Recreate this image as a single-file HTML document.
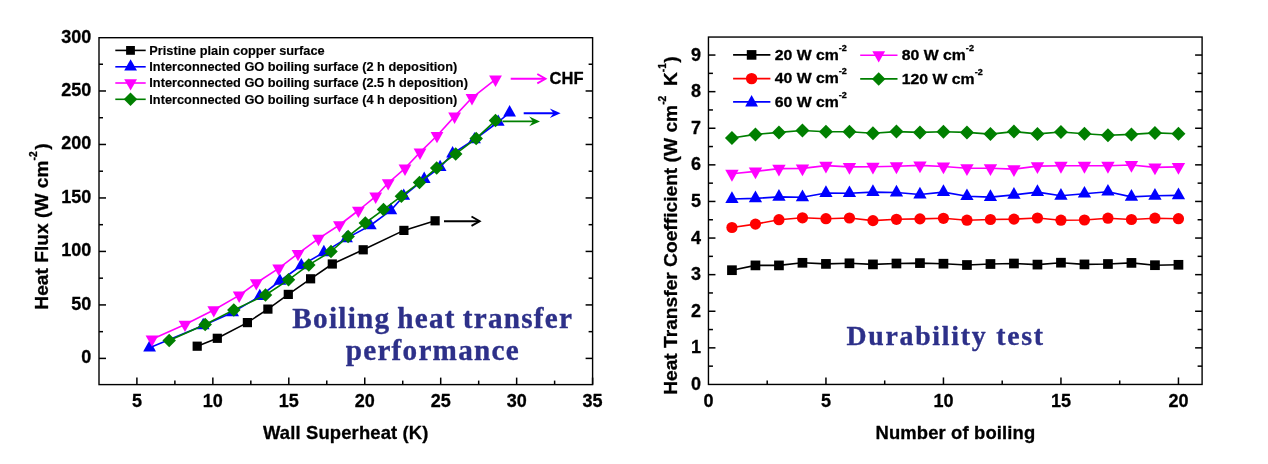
<!DOCTYPE html>
<html lang="en">
<head>
<meta charset="utf-8">
<title>Boiling heat transfer performance and durability test</title>
<style>
html,body{margin:0;padding:0;background:#ffffff;}
body{width:1268px;height:464px;overflow:hidden;}
svg{display:block;filter:blur(0.4px);}
text{white-space:pre;}
</style>
</head>
<body>
<svg width="1268" height="464" viewBox="0 0 1268 464" role="img" aria-label="Boiling heat transfer performance and durability test charts">
<rect width="1268" height="464" fill="#ffffff"/>
<rect x="99.0" y="37.7" width="493.60" height="346.90" fill="none" stroke="#000" stroke-width="1.4"/>
<line x1="136.90" y1="384.60" x2="136.90" y2="377.60" stroke="#000" stroke-width="1.5" />
<text x="136.90" y="407.10" font-family='"Liberation Sans", Arial, Helvetica, sans-serif' font-size="18" font-weight="bold" text-anchor="middle" fill="#000"  stroke="#000" stroke-width="0.3" stroke-linejoin="round">5</text>
<line x1="212.85" y1="384.60" x2="212.85" y2="377.60" stroke="#000" stroke-width="1.5" />
<text x="212.85" y="407.10" font-family='"Liberation Sans", Arial, Helvetica, sans-serif' font-size="18" font-weight="bold" text-anchor="middle" fill="#000"  stroke="#000" stroke-width="0.3" stroke-linejoin="round">10</text>
<line x1="288.80" y1="384.60" x2="288.80" y2="377.60" stroke="#000" stroke-width="1.5" />
<text x="288.80" y="407.10" font-family='"Liberation Sans", Arial, Helvetica, sans-serif' font-size="18" font-weight="bold" text-anchor="middle" fill="#000"  stroke="#000" stroke-width="0.3" stroke-linejoin="round">15</text>
<line x1="364.75" y1="384.60" x2="364.75" y2="377.60" stroke="#000" stroke-width="1.5" />
<text x="364.75" y="407.10" font-family='"Liberation Sans", Arial, Helvetica, sans-serif' font-size="18" font-weight="bold" text-anchor="middle" fill="#000"  stroke="#000" stroke-width="0.3" stroke-linejoin="round">20</text>
<line x1="440.70" y1="384.60" x2="440.70" y2="377.60" stroke="#000" stroke-width="1.5" />
<text x="440.70" y="407.10" font-family='"Liberation Sans", Arial, Helvetica, sans-serif' font-size="18" font-weight="bold" text-anchor="middle" fill="#000"  stroke="#000" stroke-width="0.3" stroke-linejoin="round">25</text>
<line x1="516.65" y1="384.60" x2="516.65" y2="377.60" stroke="#000" stroke-width="1.5" />
<text x="516.65" y="407.10" font-family='"Liberation Sans", Arial, Helvetica, sans-serif' font-size="18" font-weight="bold" text-anchor="middle" fill="#000"  stroke="#000" stroke-width="0.3" stroke-linejoin="round">30</text>
<line x1="592.60" y1="384.60" x2="592.60" y2="377.60" stroke="#000" stroke-width="1.5" />
<text x="592.60" y="407.10" font-family='"Liberation Sans", Arial, Helvetica, sans-serif' font-size="18" font-weight="bold" text-anchor="middle" fill="#000"  stroke="#000" stroke-width="0.3" stroke-linejoin="round">35</text>
<line x1="174.88" y1="384.60" x2="174.88" y2="380.60" stroke="#000" stroke-width="1.5" />
<line x1="250.83" y1="384.60" x2="250.83" y2="380.60" stroke="#000" stroke-width="1.5" />
<line x1="326.78" y1="384.60" x2="326.78" y2="380.60" stroke="#000" stroke-width="1.5" />
<line x1="402.73" y1="384.60" x2="402.73" y2="380.60" stroke="#000" stroke-width="1.5" />
<line x1="478.68" y1="384.60" x2="478.68" y2="380.60" stroke="#000" stroke-width="1.5" />
<line x1="554.62" y1="384.60" x2="554.62" y2="380.60" stroke="#000" stroke-width="1.5" />
<line x1="99.00" y1="358.40" x2="106.00" y2="358.40" stroke="#000" stroke-width="1.5" />
<line x1="592.60" y1="358.40" x2="585.60" y2="358.40" stroke="#000" stroke-width="1.5" />
<text x="91.20" y="363.40" font-family='"Liberation Sans", Arial, Helvetica, sans-serif' font-size="18" font-weight="bold" text-anchor="end" fill="#000"  stroke="#000" stroke-width="0.3" stroke-linejoin="round">0</text>
<line x1="99.00" y1="304.92" x2="106.00" y2="304.92" stroke="#000" stroke-width="1.5" />
<line x1="592.60" y1="304.92" x2="585.60" y2="304.92" stroke="#000" stroke-width="1.5" />
<text x="91.20" y="309.92" font-family='"Liberation Sans", Arial, Helvetica, sans-serif' font-size="18" font-weight="bold" text-anchor="end" fill="#000"  stroke="#000" stroke-width="0.3" stroke-linejoin="round">50</text>
<line x1="99.00" y1="251.43" x2="106.00" y2="251.43" stroke="#000" stroke-width="1.5" />
<line x1="592.60" y1="251.43" x2="585.60" y2="251.43" stroke="#000" stroke-width="1.5" />
<text x="91.20" y="256.43" font-family='"Liberation Sans", Arial, Helvetica, sans-serif' font-size="18" font-weight="bold" text-anchor="end" fill="#000"  stroke="#000" stroke-width="0.3" stroke-linejoin="round">100</text>
<line x1="99.00" y1="197.95" x2="106.00" y2="197.95" stroke="#000" stroke-width="1.5" />
<line x1="592.60" y1="197.95" x2="585.60" y2="197.95" stroke="#000" stroke-width="1.5" />
<text x="91.20" y="202.95" font-family='"Liberation Sans", Arial, Helvetica, sans-serif' font-size="18" font-weight="bold" text-anchor="end" fill="#000"  stroke="#000" stroke-width="0.3" stroke-linejoin="round">150</text>
<line x1="99.00" y1="144.47" x2="106.00" y2="144.47" stroke="#000" stroke-width="1.5" />
<line x1="592.60" y1="144.47" x2="585.60" y2="144.47" stroke="#000" stroke-width="1.5" />
<text x="91.20" y="149.47" font-family='"Liberation Sans", Arial, Helvetica, sans-serif' font-size="18" font-weight="bold" text-anchor="end" fill="#000"  stroke="#000" stroke-width="0.3" stroke-linejoin="round">200</text>
<line x1="99.00" y1="90.98" x2="106.00" y2="90.98" stroke="#000" stroke-width="1.5" />
<line x1="592.60" y1="90.98" x2="585.60" y2="90.98" stroke="#000" stroke-width="1.5" />
<text x="91.20" y="95.98" font-family='"Liberation Sans", Arial, Helvetica, sans-serif' font-size="18" font-weight="bold" text-anchor="end" fill="#000"  stroke="#000" stroke-width="0.3" stroke-linejoin="round">250</text>
<text x="91.20" y="42.50" font-family='"Liberation Sans", Arial, Helvetica, sans-serif' font-size="18" font-weight="bold" text-anchor="end" fill="#000"  stroke="#000" stroke-width="0.3" stroke-linejoin="round">300</text>
<line x1="99.00" y1="331.66" x2="103.00" y2="331.66" stroke="#000" stroke-width="1.5" />
<line x1="592.60" y1="331.66" x2="588.60" y2="331.66" stroke="#000" stroke-width="1.5" />
<line x1="99.00" y1="278.17" x2="103.00" y2="278.17" stroke="#000" stroke-width="1.5" />
<line x1="592.60" y1="278.17" x2="588.60" y2="278.17" stroke="#000" stroke-width="1.5" />
<line x1="99.00" y1="224.69" x2="103.00" y2="224.69" stroke="#000" stroke-width="1.5" />
<line x1="592.60" y1="224.69" x2="588.60" y2="224.69" stroke="#000" stroke-width="1.5" />
<line x1="99.00" y1="171.21" x2="103.00" y2="171.21" stroke="#000" stroke-width="1.5" />
<line x1="592.60" y1="171.21" x2="588.60" y2="171.21" stroke="#000" stroke-width="1.5" />
<line x1="99.00" y1="117.72" x2="103.00" y2="117.72" stroke="#000" stroke-width="1.5" />
<line x1="592.60" y1="117.72" x2="588.60" y2="117.72" stroke="#000" stroke-width="1.5" />
<line x1="99.00" y1="64.24" x2="103.00" y2="64.24" stroke="#000" stroke-width="1.5" />
<line x1="592.60" y1="64.24" x2="588.60" y2="64.24" stroke="#000" stroke-width="1.5" />
<polyline points="197.20,346.20 217.30,338.30 247.40,322.60 267.90,309.10 288.30,294.40 310.60,278.80 332.30,264.00 363.20,249.80 403.90,230.40 435.10,220.80" fill="none" stroke="#000000" stroke-width="1.6" stroke-linejoin="round"/>
<rect x="192.60" y="341.60" width="9.2" height="9.2" fill="#000000"/>
<rect x="212.70" y="333.70" width="9.2" height="9.2" fill="#000000"/>
<rect x="242.80" y="318.00" width="9.2" height="9.2" fill="#000000"/>
<rect x="263.30" y="304.50" width="9.2" height="9.2" fill="#000000"/>
<rect x="283.70" y="289.80" width="9.2" height="9.2" fill="#000000"/>
<rect x="306.00" y="274.20" width="9.2" height="9.2" fill="#000000"/>
<rect x="327.70" y="259.40" width="9.2" height="9.2" fill="#000000"/>
<rect x="358.60" y="245.20" width="9.2" height="9.2" fill="#000000"/>
<rect x="399.30" y="225.80" width="9.2" height="9.2" fill="#000000"/>
<rect x="430.50" y="216.20" width="9.2" height="9.2" fill="#000000"/>
<polyline points="149.60,347.70 203.20,325.40 232.60,312.40 259.80,296.30 279.90,281.00 301.30,265.50 323.90,252.40 346.50,238.40 370.30,225.50 390.80,210.40 403.70,196.00 424.20,179.20 440.10,167.30 452.60,153.60 474.50,139.50 498.20,122.00 509.60,112.60" fill="none" stroke="#0000ff" stroke-width="1.6" stroke-linejoin="round"/>
<polygon points="149.60,340.10 156.00,351.50 143.20,351.50" fill="#0000ff"/>
<polygon points="203.20,317.80 209.60,329.20 196.80,329.20" fill="#0000ff"/>
<polygon points="232.60,304.80 239.00,316.20 226.20,316.20" fill="#0000ff"/>
<polygon points="259.80,288.70 266.20,300.10 253.40,300.10" fill="#0000ff"/>
<polygon points="279.90,273.40 286.30,284.80 273.50,284.80" fill="#0000ff"/>
<polygon points="301.30,257.90 307.70,269.30 294.90,269.30" fill="#0000ff"/>
<polygon points="323.90,244.80 330.30,256.20 317.50,256.20" fill="#0000ff"/>
<polygon points="346.50,230.80 352.90,242.20 340.10,242.20" fill="#0000ff"/>
<polygon points="370.30,217.90 376.70,229.30 363.90,229.30" fill="#0000ff"/>
<polygon points="390.80,202.80 397.20,214.20 384.40,214.20" fill="#0000ff"/>
<polygon points="403.70,188.40 410.10,199.80 397.30,199.80" fill="#0000ff"/>
<polygon points="424.20,171.60 430.60,183.00 417.80,183.00" fill="#0000ff"/>
<polygon points="440.10,159.70 446.50,171.10 433.70,171.10" fill="#0000ff"/>
<polygon points="452.60,146.00 459.00,157.40 446.20,157.40" fill="#0000ff"/>
<polygon points="474.50,131.90 480.90,143.30 468.10,143.30" fill="#0000ff"/>
<polygon points="498.20,114.40 504.60,125.80 491.80,125.80" fill="#0000ff"/>
<polygon points="509.60,105.00 516.00,116.40 503.20,116.40" fill="#0000ff"/>
<polyline points="152.00,339.20 185.00,324.50 213.80,310.00 239.20,295.40 256.30,283.00 278.70,268.30 298.00,253.70 318.50,238.60 339.40,225.00 358.40,210.50 375.70,196.30 388.20,183.00 405.00,168.30 420.00,152.40 437.00,135.70 454.60,116.40 472.00,97.80 495.50,79.30" fill="none" stroke="#ff00ff" stroke-width="1.6" stroke-linejoin="round"/>
<polygon points="152.00,346.80 158.40,335.40 145.60,335.40" fill="#ff00ff"/>
<polygon points="185.00,332.10 191.40,320.70 178.60,320.70" fill="#ff00ff"/>
<polygon points="213.80,317.60 220.20,306.20 207.40,306.20" fill="#ff00ff"/>
<polygon points="239.20,303.00 245.60,291.60 232.80,291.60" fill="#ff00ff"/>
<polygon points="256.30,290.60 262.70,279.20 249.90,279.20" fill="#ff00ff"/>
<polygon points="278.70,275.90 285.10,264.50 272.30,264.50" fill="#ff00ff"/>
<polygon points="298.00,261.30 304.40,249.90 291.60,249.90" fill="#ff00ff"/>
<polygon points="318.50,246.20 324.90,234.80 312.10,234.80" fill="#ff00ff"/>
<polygon points="339.40,232.60 345.80,221.20 333.00,221.20" fill="#ff00ff"/>
<polygon points="358.40,218.10 364.80,206.70 352.00,206.70" fill="#ff00ff"/>
<polygon points="375.70,203.90 382.10,192.50 369.30,192.50" fill="#ff00ff"/>
<polygon points="388.20,190.60 394.60,179.20 381.80,179.20" fill="#ff00ff"/>
<polygon points="405.00,175.90 411.40,164.50 398.60,164.50" fill="#ff00ff"/>
<polygon points="420.00,160.00 426.40,148.60 413.60,148.60" fill="#ff00ff"/>
<polygon points="437.00,143.30 443.40,131.90 430.60,131.90" fill="#ff00ff"/>
<polygon points="454.60,124.00 461.00,112.60 448.20,112.60" fill="#ff00ff"/>
<polygon points="472.00,105.40 478.40,94.00 465.60,94.00" fill="#ff00ff"/>
<polygon points="495.50,86.90 501.90,75.50 489.10,75.50" fill="#ff00ff"/>
<polyline points="169.20,340.40 205.20,324.50 233.80,309.90 265.50,295.00 288.50,279.80 308.80,264.90 331.00,251.50 348.10,236.40 365.30,223.00 383.50,209.60 401.40,196.20 419.50,182.60 436.70,167.90 455.70,153.90 476.20,138.40 495.50,120.60" fill="none" stroke="#007f00" stroke-width="1.6" stroke-linejoin="round"/>
<polygon points="169.20,333.65 175.95,340.40 169.20,347.15 162.45,340.40" fill="#007f00"/>
<polygon points="205.20,317.75 211.95,324.50 205.20,331.25 198.45,324.50" fill="#007f00"/>
<polygon points="233.80,303.15 240.55,309.90 233.80,316.65 227.05,309.90" fill="#007f00"/>
<polygon points="265.50,288.25 272.25,295.00 265.50,301.75 258.75,295.00" fill="#007f00"/>
<polygon points="288.50,273.05 295.25,279.80 288.50,286.55 281.75,279.80" fill="#007f00"/>
<polygon points="308.80,258.15 315.55,264.90 308.80,271.65 302.05,264.90" fill="#007f00"/>
<polygon points="331.00,244.75 337.75,251.50 331.00,258.25 324.25,251.50" fill="#007f00"/>
<polygon points="348.10,229.65 354.85,236.40 348.10,243.15 341.35,236.40" fill="#007f00"/>
<polygon points="365.30,216.25 372.05,223.00 365.30,229.75 358.55,223.00" fill="#007f00"/>
<polygon points="383.50,202.85 390.25,209.60 383.50,216.35 376.75,209.60" fill="#007f00"/>
<polygon points="401.40,189.45 408.15,196.20 401.40,202.95 394.65,196.20" fill="#007f00"/>
<polygon points="419.50,175.85 426.25,182.60 419.50,189.35 412.75,182.60" fill="#007f00"/>
<polygon points="436.70,161.15 443.45,167.90 436.70,174.65 429.95,167.90" fill="#007f00"/>
<polygon points="455.70,147.15 462.45,153.90 455.70,160.65 448.95,153.90" fill="#007f00"/>
<polygon points="476.20,131.65 482.95,138.40 476.20,145.15 469.45,138.40" fill="#007f00"/>
<polygon points="495.50,113.85 502.25,120.60 495.50,127.35 488.75,120.60" fill="#007f00"/>
<line x1="444.00" y1="221.20" x2="479.30" y2="221.20" stroke="#000000" stroke-width="1.9" />
<polyline points="471.50,216.50 479.70,221.20 471.50,225.90" fill="none" stroke="#000000" stroke-width="1.9" stroke-linejoin="miter"/>
<line x1="510.70" y1="78.70" x2="545.10" y2="78.70" stroke="#ff00ff" stroke-width="1.9" />
<polyline points="537.30,74.00 545.50,78.70 537.30,83.40" fill="none" stroke="#ff00ff" stroke-width="1.9" stroke-linejoin="miter"/>
<line x1="523.70" y1="113.20" x2="555.60" y2="113.20" stroke="#0000ff" stroke-width="1.9" />
<polygon points="560.60,113.20 549.80,108.40 553.60,113.20 549.80,118.00" fill="#0000ff"/>
<line x1="502.50" y1="121.40" x2="535.00" y2="121.40" stroke="#007f00" stroke-width="1.9" />
<polygon points="540.00,121.40 529.20,116.60 533.00,121.40 529.20,126.20" fill="#007f00"/>
<text x="549.60" y="84.00" font-family='"Liberation Sans", Arial, Helvetica, sans-serif' font-size="16.5" font-weight="bold" text-anchor="start" fill="#000"  stroke="#000" stroke-width="0.3" stroke-linejoin="round">CHF</text>
<line x1="115.30" y1="50.40" x2="145.70" y2="50.40" stroke="#000000" stroke-width="1.6" />
<rect x="126.10" y="46.00" width="8.8" height="8.8" fill="#000000"/>
<text x="0.00" y="0.00" font-family='"Liberation Sans", Arial, Helvetica, sans-serif' font-size="11.95" font-weight="bold" text-anchor="start" fill="#000"  transform="translate(149.30,54.60) scale(1.07,1)" stroke="#000" stroke-width="0.15" stroke-linejoin="round">Pristine plain copper surface</text>
<line x1="115.30" y1="66.80" x2="145.70" y2="66.80" stroke="#0000ff" stroke-width="1.6" />
<polygon points="130.60,59.20 137.00,70.60 124.20,70.60" fill="#0000ff"/>
<text x="0.00" y="0.00" font-family='"Liberation Sans", Arial, Helvetica, sans-serif' font-size="11.95" font-weight="bold" text-anchor="start" fill="#000"  transform="translate(149.30,71.00) scale(1.07,1)" stroke="#000" stroke-width="0.15" stroke-linejoin="round">Interconnected GO boiling surface (2 h deposition)</text>
<line x1="115.30" y1="83.00" x2="145.70" y2="83.00" stroke="#ff00ff" stroke-width="1.6" />
<polygon points="130.60,90.60 137.00,79.20 124.20,79.20" fill="#ff00ff"/>
<text x="0.00" y="0.00" font-family='"Liberation Sans", Arial, Helvetica, sans-serif' font-size="11.95" font-weight="bold" text-anchor="start" fill="#000"  transform="translate(149.30,87.20) scale(1.07,1)" stroke="#000" stroke-width="0.15" stroke-linejoin="round">Interconnected GO boiling surface (2.5 h deposition)</text>
<line x1="115.30" y1="99.30" x2="145.70" y2="99.30" stroke="#007f00" stroke-width="1.6" />
<polygon points="130.50,92.55 137.25,99.30 130.50,106.05 123.75,99.30" fill="#007f00"/>
<text x="0.00" y="0.00" font-family='"Liberation Sans", Arial, Helvetica, sans-serif' font-size="11.95" font-weight="bold" text-anchor="start" fill="#000"  transform="translate(149.30,103.50) scale(1.07,1)" stroke="#000" stroke-width="0.15" stroke-linejoin="round">Interconnected GO boiling surface (4 h deposition)</text>
<text x="345.80" y="439.30" font-family='"Liberation Sans", Arial, Helvetica, sans-serif' font-size="18.4" font-weight="bold" text-anchor="middle" fill="#000" letter-spacing="0.15" stroke="#000" stroke-width="0.3" stroke-linejoin="round">Wall Superheat (K)</text>
<g transform="translate(48.4,226.5) rotate(-90)">
<text x="0.00" y="0.00" font-family='"Liberation Sans", Arial, Helvetica, sans-serif' font-size="19.2" font-weight="bold" text-anchor="middle" fill="#000"  stroke="#000" stroke-width="0.3" stroke-linejoin="round">Heat Flux (W cm<tspan font-size="10.2" dy="-11.7">-2</tspan><tspan dy="11.7" dx="1.7">)</tspan></text>
</g>
<text x="432.80" y="327.90" font-family='"Liberation Serif", "Times New Roman", Times, serif' font-size="29.2" font-weight="bold" text-anchor="middle" fill="#2d3089" letter-spacing="1.25" word-spacing="-1.6" stroke="#2d3089" stroke-width="0.35" stroke-linejoin="round">Boiling heat transfer</text>
<text x="432.80" y="359.70" font-family='"Liberation Serif", "Times New Roman", Times, serif' font-size="29.2" font-weight="bold" text-anchor="middle" fill="#2d3089" letter-spacing="1.25" stroke="#2d3089" stroke-width="0.35" stroke-linejoin="round">performance</text>
<rect x="708.45" y="37.05" width="493.65" height="347.40" fill="none" stroke="#000" stroke-width="1.4"/>
<text x="708.45" y="406.60" font-family='"Liberation Sans", Arial, Helvetica, sans-serif' font-size="18" font-weight="bold" text-anchor="middle" fill="#000"  stroke="#000" stroke-width="0.3" stroke-linejoin="round">0</text>
<line x1="825.95" y1="384.45" x2="825.95" y2="377.45" stroke="#000" stroke-width="1.5" />
<text x="825.95" y="406.60" font-family='"Liberation Sans", Arial, Helvetica, sans-serif' font-size="18" font-weight="bold" text-anchor="middle" fill="#000"  stroke="#000" stroke-width="0.3" stroke-linejoin="round">5</text>
<line x1="943.45" y1="384.45" x2="943.45" y2="377.45" stroke="#000" stroke-width="1.5" />
<text x="943.45" y="406.60" font-family='"Liberation Sans", Arial, Helvetica, sans-serif' font-size="18" font-weight="bold" text-anchor="middle" fill="#000"  stroke="#000" stroke-width="0.3" stroke-linejoin="round">10</text>
<line x1="1060.95" y1="384.45" x2="1060.95" y2="377.45" stroke="#000" stroke-width="1.5" />
<text x="1060.95" y="406.60" font-family='"Liberation Sans", Arial, Helvetica, sans-serif' font-size="18" font-weight="bold" text-anchor="middle" fill="#000"  stroke="#000" stroke-width="0.3" stroke-linejoin="round">15</text>
<line x1="1178.45" y1="384.45" x2="1178.45" y2="377.45" stroke="#000" stroke-width="1.5" />
<text x="1178.45" y="406.60" font-family='"Liberation Sans", Arial, Helvetica, sans-serif' font-size="18" font-weight="bold" text-anchor="middle" fill="#000"  stroke="#000" stroke-width="0.3" stroke-linejoin="round">20</text>
<line x1="767.20" y1="384.45" x2="767.20" y2="380.45" stroke="#000" stroke-width="1.5" />
<line x1="884.70" y1="384.45" x2="884.70" y2="380.45" stroke="#000" stroke-width="1.5" />
<line x1="1002.20" y1="384.45" x2="1002.20" y2="380.45" stroke="#000" stroke-width="1.5" />
<line x1="1119.70" y1="384.45" x2="1119.70" y2="380.45" stroke="#000" stroke-width="1.5" />
<text x="701.00" y="389.95" font-family='"Liberation Sans", Arial, Helvetica, sans-serif' font-size="18" font-weight="bold" text-anchor="end" fill="#000"  stroke="#000" stroke-width="0.3" stroke-linejoin="round">0</text>
<line x1="708.45" y1="347.85" x2="715.45" y2="347.85" stroke="#000" stroke-width="1.5" />
<line x1="1202.10" y1="347.85" x2="1195.10" y2="347.85" stroke="#000" stroke-width="1.5" />
<text x="701.00" y="353.35" font-family='"Liberation Sans", Arial, Helvetica, sans-serif' font-size="18" font-weight="bold" text-anchor="end" fill="#000"  stroke="#000" stroke-width="0.3" stroke-linejoin="round">1</text>
<line x1="708.45" y1="311.25" x2="715.45" y2="311.25" stroke="#000" stroke-width="1.5" />
<line x1="1202.10" y1="311.25" x2="1195.10" y2="311.25" stroke="#000" stroke-width="1.5" />
<text x="701.00" y="316.75" font-family='"Liberation Sans", Arial, Helvetica, sans-serif' font-size="18" font-weight="bold" text-anchor="end" fill="#000"  stroke="#000" stroke-width="0.3" stroke-linejoin="round">2</text>
<line x1="708.45" y1="274.65" x2="715.45" y2="274.65" stroke="#000" stroke-width="1.5" />
<line x1="1202.10" y1="274.65" x2="1195.10" y2="274.65" stroke="#000" stroke-width="1.5" />
<text x="701.00" y="280.15" font-family='"Liberation Sans", Arial, Helvetica, sans-serif' font-size="18" font-weight="bold" text-anchor="end" fill="#000"  stroke="#000" stroke-width="0.3" stroke-linejoin="round">3</text>
<line x1="708.45" y1="238.05" x2="715.45" y2="238.05" stroke="#000" stroke-width="1.5" />
<line x1="1202.10" y1="238.05" x2="1195.10" y2="238.05" stroke="#000" stroke-width="1.5" />
<text x="701.00" y="243.55" font-family='"Liberation Sans", Arial, Helvetica, sans-serif' font-size="18" font-weight="bold" text-anchor="end" fill="#000"  stroke="#000" stroke-width="0.3" stroke-linejoin="round">4</text>
<line x1="708.45" y1="201.45" x2="715.45" y2="201.45" stroke="#000" stroke-width="1.5" />
<line x1="1202.10" y1="201.45" x2="1195.10" y2="201.45" stroke="#000" stroke-width="1.5" />
<text x="701.00" y="206.95" font-family='"Liberation Sans", Arial, Helvetica, sans-serif' font-size="18" font-weight="bold" text-anchor="end" fill="#000"  stroke="#000" stroke-width="0.3" stroke-linejoin="round">5</text>
<line x1="708.45" y1="164.85" x2="715.45" y2="164.85" stroke="#000" stroke-width="1.5" />
<line x1="1202.10" y1="164.85" x2="1195.10" y2="164.85" stroke="#000" stroke-width="1.5" />
<text x="701.00" y="170.35" font-family='"Liberation Sans", Arial, Helvetica, sans-serif' font-size="18" font-weight="bold" text-anchor="end" fill="#000"  stroke="#000" stroke-width="0.3" stroke-linejoin="round">6</text>
<line x1="708.45" y1="128.25" x2="715.45" y2="128.25" stroke="#000" stroke-width="1.5" />
<line x1="1202.10" y1="128.25" x2="1195.10" y2="128.25" stroke="#000" stroke-width="1.5" />
<text x="701.00" y="133.75" font-family='"Liberation Sans", Arial, Helvetica, sans-serif' font-size="18" font-weight="bold" text-anchor="end" fill="#000"  stroke="#000" stroke-width="0.3" stroke-linejoin="round">7</text>
<line x1="708.45" y1="91.65" x2="715.45" y2="91.65" stroke="#000" stroke-width="1.5" />
<line x1="1202.10" y1="91.65" x2="1195.10" y2="91.65" stroke="#000" stroke-width="1.5" />
<text x="701.00" y="97.15" font-family='"Liberation Sans", Arial, Helvetica, sans-serif' font-size="18" font-weight="bold" text-anchor="end" fill="#000"  stroke="#000" stroke-width="0.3" stroke-linejoin="round">8</text>
<line x1="708.45" y1="55.05" x2="715.45" y2="55.05" stroke="#000" stroke-width="1.5" />
<line x1="1202.10" y1="55.05" x2="1195.10" y2="55.05" stroke="#000" stroke-width="1.5" />
<text x="701.00" y="60.55" font-family='"Liberation Sans", Arial, Helvetica, sans-serif' font-size="18" font-weight="bold" text-anchor="end" fill="#000"  stroke="#000" stroke-width="0.3" stroke-linejoin="round">9</text>
<line x1="708.45" y1="366.15" x2="712.95" y2="366.15" stroke="#000" stroke-width="1.5" />
<line x1="1202.10" y1="366.15" x2="1197.60" y2="366.15" stroke="#000" stroke-width="1.5" />
<line x1="708.45" y1="329.55" x2="712.95" y2="329.55" stroke="#000" stroke-width="1.5" />
<line x1="1202.10" y1="329.55" x2="1197.60" y2="329.55" stroke="#000" stroke-width="1.5" />
<line x1="708.45" y1="292.95" x2="712.95" y2="292.95" stroke="#000" stroke-width="1.5" />
<line x1="1202.10" y1="292.95" x2="1197.60" y2="292.95" stroke="#000" stroke-width="1.5" />
<line x1="708.45" y1="256.35" x2="712.95" y2="256.35" stroke="#000" stroke-width="1.5" />
<line x1="1202.10" y1="256.35" x2="1197.60" y2="256.35" stroke="#000" stroke-width="1.5" />
<line x1="708.45" y1="219.75" x2="712.95" y2="219.75" stroke="#000" stroke-width="1.5" />
<line x1="1202.10" y1="219.75" x2="1197.60" y2="219.75" stroke="#000" stroke-width="1.5" />
<line x1="708.45" y1="183.15" x2="712.95" y2="183.15" stroke="#000" stroke-width="1.5" />
<line x1="1202.10" y1="183.15" x2="1197.60" y2="183.15" stroke="#000" stroke-width="1.5" />
<line x1="708.45" y1="146.55" x2="712.95" y2="146.55" stroke="#000" stroke-width="1.5" />
<line x1="1202.10" y1="146.55" x2="1197.60" y2="146.55" stroke="#000" stroke-width="1.5" />
<line x1="708.45" y1="109.95" x2="712.95" y2="109.95" stroke="#000" stroke-width="1.5" />
<line x1="1202.10" y1="109.95" x2="1197.60" y2="109.95" stroke="#000" stroke-width="1.5" />
<line x1="708.45" y1="73.35" x2="712.95" y2="73.35" stroke="#000" stroke-width="1.5" />
<line x1="1202.10" y1="73.35" x2="1197.60" y2="73.35" stroke="#000" stroke-width="1.5" />
<polyline points="731.95,270.20 755.45,265.40 778.95,265.40 802.45,262.80 825.95,263.90 849.45,263.30 872.95,264.40 896.45,263.50 919.95,263.10 943.45,263.70 966.95,265.00 990.45,264.00 1013.95,263.50 1037.45,264.60 1060.95,262.70 1084.45,264.40 1107.95,264.00 1131.45,262.90 1154.95,265.20 1178.45,264.80" fill="none" stroke="#000000" stroke-width="1.6" stroke-linejoin="round"/>
<rect x="727.10" y="265.35" width="9.7" height="9.7" fill="#000000"/>
<rect x="750.60" y="260.55" width="9.7" height="9.7" fill="#000000"/>
<rect x="774.10" y="260.55" width="9.7" height="9.7" fill="#000000"/>
<rect x="797.60" y="257.95" width="9.7" height="9.7" fill="#000000"/>
<rect x="821.10" y="259.05" width="9.7" height="9.7" fill="#000000"/>
<rect x="844.60" y="258.45" width="9.7" height="9.7" fill="#000000"/>
<rect x="868.10" y="259.55" width="9.7" height="9.7" fill="#000000"/>
<rect x="891.60" y="258.65" width="9.7" height="9.7" fill="#000000"/>
<rect x="915.10" y="258.25" width="9.7" height="9.7" fill="#000000"/>
<rect x="938.60" y="258.85" width="9.7" height="9.7" fill="#000000"/>
<rect x="962.10" y="260.15" width="9.7" height="9.7" fill="#000000"/>
<rect x="985.60" y="259.15" width="9.7" height="9.7" fill="#000000"/>
<rect x="1009.10" y="258.65" width="9.7" height="9.7" fill="#000000"/>
<rect x="1032.60" y="259.75" width="9.7" height="9.7" fill="#000000"/>
<rect x="1056.10" y="257.85" width="9.7" height="9.7" fill="#000000"/>
<rect x="1079.60" y="259.55" width="9.7" height="9.7" fill="#000000"/>
<rect x="1103.10" y="259.15" width="9.7" height="9.7" fill="#000000"/>
<rect x="1126.60" y="258.05" width="9.7" height="9.7" fill="#000000"/>
<rect x="1150.10" y="260.35" width="9.7" height="9.7" fill="#000000"/>
<rect x="1173.60" y="259.95" width="9.7" height="9.7" fill="#000000"/>
<polyline points="731.95,227.50 755.45,224.10 778.95,219.70 802.45,217.80 825.95,218.70 849.45,218.00 872.95,220.60 896.45,219.30 919.95,218.90 943.45,218.30 966.95,220.20 990.45,219.50 1013.95,219.10 1037.45,218.00 1060.95,220.20 1084.45,220.00 1107.95,218.20 1131.45,219.50 1154.95,218.20 1178.45,218.70" fill="none" stroke="#ff0000" stroke-width="1.6" stroke-linejoin="round"/>
<circle cx="731.95" cy="227.50" r="5.6" fill="#ff0000"/>
<circle cx="755.45" cy="224.10" r="5.6" fill="#ff0000"/>
<circle cx="778.95" cy="219.70" r="5.6" fill="#ff0000"/>
<circle cx="802.45" cy="217.80" r="5.6" fill="#ff0000"/>
<circle cx="825.95" cy="218.70" r="5.6" fill="#ff0000"/>
<circle cx="849.45" cy="218.00" r="5.6" fill="#ff0000"/>
<circle cx="872.95" cy="220.60" r="5.6" fill="#ff0000"/>
<circle cx="896.45" cy="219.30" r="5.6" fill="#ff0000"/>
<circle cx="919.95" cy="218.90" r="5.6" fill="#ff0000"/>
<circle cx="943.45" cy="218.30" r="5.6" fill="#ff0000"/>
<circle cx="966.95" cy="220.20" r="5.6" fill="#ff0000"/>
<circle cx="990.45" cy="219.50" r="5.6" fill="#ff0000"/>
<circle cx="1013.95" cy="219.10" r="5.6" fill="#ff0000"/>
<circle cx="1037.45" cy="218.00" r="5.6" fill="#ff0000"/>
<circle cx="1060.95" cy="220.20" r="5.6" fill="#ff0000"/>
<circle cx="1084.45" cy="220.00" r="5.6" fill="#ff0000"/>
<circle cx="1107.95" cy="218.20" r="5.6" fill="#ff0000"/>
<circle cx="1131.45" cy="219.50" r="5.6" fill="#ff0000"/>
<circle cx="1154.95" cy="218.20" r="5.6" fill="#ff0000"/>
<circle cx="1178.45" cy="218.70" r="5.6" fill="#ff0000"/>
<polyline points="731.95,199.00 755.45,198.40 778.95,196.90 802.45,197.30 825.95,193.00 849.45,193.20 872.95,192.10 896.45,192.50 919.95,194.50 943.45,192.10 966.95,196.20 990.45,197.10 1013.95,194.90 1037.45,192.10 1060.95,195.80 1084.45,193.70 1107.95,191.70 1131.45,196.90 1154.95,195.80 1178.45,195.40" fill="none" stroke="#0000ff" stroke-width="1.6" stroke-linejoin="round"/>
<polygon points="731.95,191.20 738.60,202.90 725.30,202.90" fill="#0000ff"/>
<polygon points="755.45,190.60 762.10,202.30 748.80,202.30" fill="#0000ff"/>
<polygon points="778.95,189.10 785.60,200.80 772.30,200.80" fill="#0000ff"/>
<polygon points="802.45,189.50 809.10,201.20 795.80,201.20" fill="#0000ff"/>
<polygon points="825.95,185.20 832.60,196.90 819.30,196.90" fill="#0000ff"/>
<polygon points="849.45,185.40 856.10,197.10 842.80,197.10" fill="#0000ff"/>
<polygon points="872.95,184.30 879.60,196.00 866.30,196.00" fill="#0000ff"/>
<polygon points="896.45,184.70 903.10,196.40 889.80,196.40" fill="#0000ff"/>
<polygon points="919.95,186.70 926.60,198.40 913.30,198.40" fill="#0000ff"/>
<polygon points="943.45,184.30 950.10,196.00 936.80,196.00" fill="#0000ff"/>
<polygon points="966.95,188.40 973.60,200.10 960.30,200.10" fill="#0000ff"/>
<polygon points="990.45,189.30 997.10,201.00 983.80,201.00" fill="#0000ff"/>
<polygon points="1013.95,187.10 1020.60,198.80 1007.30,198.80" fill="#0000ff"/>
<polygon points="1037.45,184.30 1044.10,196.00 1030.80,196.00" fill="#0000ff"/>
<polygon points="1060.95,188.00 1067.60,199.70 1054.30,199.70" fill="#0000ff"/>
<polygon points="1084.45,185.90 1091.10,197.60 1077.80,197.60" fill="#0000ff"/>
<polygon points="1107.95,183.90 1114.60,195.60 1101.30,195.60" fill="#0000ff"/>
<polygon points="1131.45,189.10 1138.10,200.80 1124.80,200.80" fill="#0000ff"/>
<polygon points="1154.95,188.00 1161.60,199.70 1148.30,199.70" fill="#0000ff"/>
<polygon points="1178.45,187.60 1185.10,199.30 1171.80,199.30" fill="#0000ff"/>
<polyline points="731.95,173.80 755.45,171.40 778.95,168.60 802.45,168.40 825.95,165.60 849.45,166.90 872.95,166.70 896.45,166.30 919.95,165.40 943.45,166.50 966.95,168.20 990.45,168.20 1013.95,169.10 1037.45,166.10 1060.95,165.80 1084.45,165.80 1107.95,165.80 1131.45,165.00 1154.95,167.40 1178.45,166.90" fill="none" stroke="#ff00ff" stroke-width="1.6" stroke-linejoin="round"/>
<polygon points="731.95,181.67 738.65,169.87 725.25,169.87" fill="#ff00ff"/>
<polygon points="755.45,179.27 762.15,167.47 748.75,167.47" fill="#ff00ff"/>
<polygon points="778.95,176.47 785.65,164.67 772.25,164.67" fill="#ff00ff"/>
<polygon points="802.45,176.27 809.15,164.47 795.75,164.47" fill="#ff00ff"/>
<polygon points="825.95,173.47 832.65,161.67 819.25,161.67" fill="#ff00ff"/>
<polygon points="849.45,174.77 856.15,162.97 842.75,162.97" fill="#ff00ff"/>
<polygon points="872.95,174.57 879.65,162.77 866.25,162.77" fill="#ff00ff"/>
<polygon points="896.45,174.17 903.15,162.37 889.75,162.37" fill="#ff00ff"/>
<polygon points="919.95,173.27 926.65,161.47 913.25,161.47" fill="#ff00ff"/>
<polygon points="943.45,174.37 950.15,162.57 936.75,162.57" fill="#ff00ff"/>
<polygon points="966.95,176.07 973.65,164.27 960.25,164.27" fill="#ff00ff"/>
<polygon points="990.45,176.07 997.15,164.27 983.75,164.27" fill="#ff00ff"/>
<polygon points="1013.95,176.97 1020.65,165.17 1007.25,165.17" fill="#ff00ff"/>
<polygon points="1037.45,173.97 1044.15,162.17 1030.75,162.17" fill="#ff00ff"/>
<polygon points="1060.95,173.67 1067.65,161.87 1054.25,161.87" fill="#ff00ff"/>
<polygon points="1084.45,173.67 1091.15,161.87 1077.75,161.87" fill="#ff00ff"/>
<polygon points="1107.95,173.67 1114.65,161.87 1101.25,161.87" fill="#ff00ff"/>
<polygon points="1131.45,172.87 1138.15,161.07 1124.75,161.07" fill="#ff00ff"/>
<polygon points="1154.95,175.27 1161.65,163.47 1148.25,163.47" fill="#ff00ff"/>
<polygon points="1178.45,174.77 1185.15,162.97 1171.75,162.97" fill="#ff00ff"/>
<polyline points="731.95,138.00 755.45,134.40 778.95,132.40 802.45,130.50 825.95,131.80 849.45,131.80 872.95,133.30 896.45,131.60 919.95,132.40 943.45,131.80 966.95,132.40 990.45,134.10 1013.95,131.60 1037.45,133.90 1060.95,132.00 1084.45,133.70 1107.95,135.20 1131.45,134.40 1154.95,132.90 1178.45,133.70" fill="none" stroke="#007f00" stroke-width="1.6" stroke-linejoin="round"/>
<polygon points="731.95,131.00 738.95,138.00 731.95,145.00 724.95,138.00" fill="#007f00"/>
<polygon points="755.45,127.40 762.45,134.40 755.45,141.40 748.45,134.40" fill="#007f00"/>
<polygon points="778.95,125.40 785.95,132.40 778.95,139.40 771.95,132.40" fill="#007f00"/>
<polygon points="802.45,123.50 809.45,130.50 802.45,137.50 795.45,130.50" fill="#007f00"/>
<polygon points="825.95,124.80 832.95,131.80 825.95,138.80 818.95,131.80" fill="#007f00"/>
<polygon points="849.45,124.80 856.45,131.80 849.45,138.80 842.45,131.80" fill="#007f00"/>
<polygon points="872.95,126.30 879.95,133.30 872.95,140.30 865.95,133.30" fill="#007f00"/>
<polygon points="896.45,124.60 903.45,131.60 896.45,138.60 889.45,131.60" fill="#007f00"/>
<polygon points="919.95,125.40 926.95,132.40 919.95,139.40 912.95,132.40" fill="#007f00"/>
<polygon points="943.45,124.80 950.45,131.80 943.45,138.80 936.45,131.80" fill="#007f00"/>
<polygon points="966.95,125.40 973.95,132.40 966.95,139.40 959.95,132.40" fill="#007f00"/>
<polygon points="990.45,127.10 997.45,134.10 990.45,141.10 983.45,134.10" fill="#007f00"/>
<polygon points="1013.95,124.60 1020.95,131.60 1013.95,138.60 1006.95,131.60" fill="#007f00"/>
<polygon points="1037.45,126.90 1044.45,133.90 1037.45,140.90 1030.45,133.90" fill="#007f00"/>
<polygon points="1060.95,125.00 1067.95,132.00 1060.95,139.00 1053.95,132.00" fill="#007f00"/>
<polygon points="1084.45,126.70 1091.45,133.70 1084.45,140.70 1077.45,133.70" fill="#007f00"/>
<polygon points="1107.95,128.20 1114.95,135.20 1107.95,142.20 1100.95,135.20" fill="#007f00"/>
<polygon points="1131.45,127.40 1138.45,134.40 1131.45,141.40 1124.45,134.40" fill="#007f00"/>
<polygon points="1154.95,125.90 1161.95,132.90 1154.95,139.90 1147.95,132.90" fill="#007f00"/>
<polygon points="1178.45,126.70 1185.45,133.70 1178.45,140.70 1171.45,133.70" fill="#007f00"/>
<line x1="733.10" y1="54.90" x2="770.40" y2="54.90" stroke="#000000" stroke-width="1.6" />
<rect x="746.80" y="50.10" width="9.6" height="9.6" fill="#000000"/>
<text x="0.00" y="0.00" font-family='"Liberation Sans", Arial, Helvetica, sans-serif' font-size="14.7" font-weight="bold" text-anchor="start" fill="#000"  transform="translate(774.70,59.60) scale(1.075,1)" stroke="#000" stroke-width="0.3" stroke-linejoin="round">20 W cm<tspan font-size="8.4" dy="-8.9">-2</tspan></text>
<line x1="733.10" y1="78.60" x2="770.40" y2="78.60" stroke="#ff0000" stroke-width="1.6" />
<circle cx="751.60" cy="78.60" r="5.7" fill="#ff0000"/>
<text x="0.00" y="0.00" font-family='"Liberation Sans", Arial, Helvetica, sans-serif' font-size="14.7" font-weight="bold" text-anchor="start" fill="#000"  transform="translate(774.70,83.30) scale(1.075,1)" stroke="#000" stroke-width="0.3" stroke-linejoin="round">40 W cm<tspan font-size="8.4" dy="-8.9">-2</tspan></text>
<line x1="733.10" y1="101.90" x2="770.40" y2="101.90" stroke="#0000ff" stroke-width="1.6" />
<polygon points="751.60,95.10 758.00,106.50 745.20,106.50" fill="#0000ff"/>
<text x="0.00" y="0.00" font-family='"Liberation Sans", Arial, Helvetica, sans-serif' font-size="14.7" font-weight="bold" text-anchor="start" fill="#000"  transform="translate(774.70,106.60) scale(1.075,1)" stroke="#000" stroke-width="0.3" stroke-linejoin="round">60 W cm<tspan font-size="8.4" dy="-8.9">-2</tspan></text>
<line x1="860.20" y1="55.20" x2="897.50" y2="55.20" stroke="#ff00ff" stroke-width="1.6" />
<polygon points="878.70,62.60 885.10,51.20 872.30,51.20" fill="#ff00ff"/>
<text x="0.00" y="0.00" font-family='"Liberation Sans", Arial, Helvetica, sans-serif' font-size="14.7" font-weight="bold" text-anchor="start" fill="#000"  transform="translate(901.80,59.90) scale(1.075,1)" stroke="#000" stroke-width="0.3" stroke-linejoin="round">80 W cm<tspan font-size="8.4" dy="-8.9">-2</tspan></text>
<line x1="860.20" y1="78.90" x2="897.50" y2="78.90" stroke="#007f00" stroke-width="1.6" />
<polygon points="878.70,72.15 885.45,78.90 878.70,85.65 871.95,78.90" fill="#007f00"/>
<text x="0.00" y="0.00" font-family='"Liberation Sans", Arial, Helvetica, sans-serif' font-size="14.7" font-weight="bold" text-anchor="start" fill="#000"  transform="translate(901.80,83.60) scale(1.075,1)" stroke="#000" stroke-width="0.3" stroke-linejoin="round">120 W cm<tspan font-size="8.4" dy="-8.9">-2</tspan></text>
<text x="955.40" y="439.40" font-family='"Liberation Sans", Arial, Helvetica, sans-serif' font-size="18.4" font-weight="bold" text-anchor="middle" fill="#000" letter-spacing="0.15" stroke="#000" stroke-width="0.3" stroke-linejoin="round">Number of boiling</text>
<g transform="translate(677.4,225.6) rotate(-90)">
<text x="0.00" y="0.00" font-family='"Liberation Sans", Arial, Helvetica, sans-serif' font-size="19.2" font-weight="bold" text-anchor="middle" fill="#000"  stroke="#000" stroke-width="0.3" stroke-linejoin="round">Heat Transfer Coefficient (W cm<tspan font-size="10.2" dy="-11.2">-2</tspan><tspan dy="11.2" dx="4.4"> K</tspan><tspan font-size="10.2" dy="-11.2">-1</tspan><tspan dy="11.2" dx="0.4">)</tspan></text>
</g>
<text x="945.60" y="345.00" font-family='"Liberation Serif", "Times New Roman", Times, serif' font-size="27.8" font-weight="bold" text-anchor="middle" fill="#2d3089" letter-spacing="1.75" stroke="#2d3089" stroke-width="0.35" stroke-linejoin="round">Durability test</text>
</svg>
</body>
</html>
